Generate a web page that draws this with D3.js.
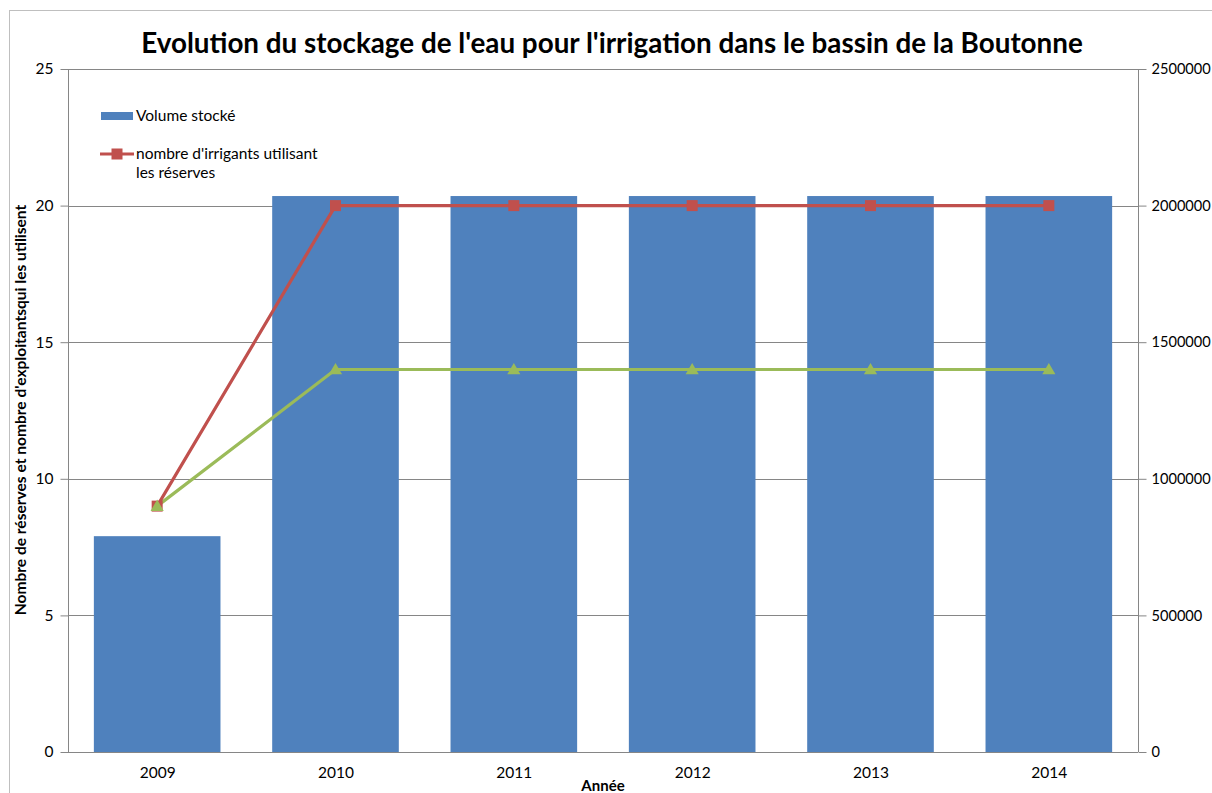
<!DOCTYPE html>
<html><head><meta charset="utf-8">
<script src="https://cdn.jsdelivr.net/npm/d3@7"></script>
<style>body{margin:0;background:#fff}svg{display:block}text{font-family:Lato,"Open Sans",sans-serif}</style>
</head><body>
<svg id="c" width="1212" height="793"></svg>
<script>
const categories = ["2009","2010","2011","2012","2013","2014"];
const volumeStocke = [790000, 2035000, 2035000, 2035000, 2035000, 2035000];
const irrigants = [9, 20, 20, 20, 20, 20];
const reserves = [9, 14, 14, 14, 14, 14];
const leftTicks = [0,5,10,15,20,25];
const rightTicks = [0,500000,1000000,1500000,2000000,2500000];
const title = "Evolution du stockage de l'eau pour l'irrigation dans le bassin de la Boutonne";
const yTitle = "Nombre de réserves et nombre d'exploitantsqui les utilisent";
const xTitle = "Année";
const legendLabels = ["Volume stocké", "nombre d'irrigants utilisant", "les réserves"];

const svg = d3.select("#c");
const L = 68, R = 1138, T = 69, B = 752;
svg.append("rect").attr("x",9.5).attr("y",10.5).attr("width",1210).attr("height",800)
  .attr("fill","none").attr("stroke","#bfbfbf").attr("stroke-width",1);

const x = d3.scaleBand().domain(categories).range([L,R]).paddingInner(0.29).paddingOuter(0.145);
const xc = d3.scalePoint().domain(categories).range([L,R]).padding(0.5);
const yL = d3.scaleLinear().domain([0,25]).range([B,T]);
const yR = d3.scaleLinear().domain([0,2500000]).range([B,T]);

// gridlines
svg.append("g").selectAll("line").data(leftTicks.filter(d=>d>0)).join("line")
  .attr("x1",L).attr("x2",R).attr("y1",d=>Math.round(yL(d))+0.5).attr("y2",d=>Math.round(yL(d))+0.5)
  .attr("stroke","#868686").attr("stroke-width",1);

// bars
svg.append("g").selectAll("rect").data(categories).join("rect")
  .attr("x",d=>x(d)).attr("width",x.bandwidth())
  .attr("y",(d,i)=>yR(volumeStocke[i])).attr("height",(d,i)=>B-yR(volumeStocke[i]))
  .attr("fill","#4f81bd");

// axes
const axL = d3.axisLeft(yL).tickValues(leftTicks).tickSize(8).tickPadding(7);
const gL = svg.append("g").attr("transform",`translate(${L+0.5},0)`).call(axL);
const axR = d3.axisRight(yR).tickValues(rightTicks).tickSize(8).tickPadding(5).tickFormat(d3.format("d"));
const gR = svg.append("g").attr("transform",`translate(${R+0.5},0)`).call(axR);
const axB = d3.axisBottom(xc).tickSize(0).tickPadding(14);
const gB = svg.append("g").attr("transform",`translate(0,${B+0.5})`).call(axB);
[gL,gR,gB].forEach(g=>{
  g.selectAll(".domain").attr("stroke","#868686");
  g.selectAll(".tick line").attr("stroke","#868686");
  g.selectAll("text").attr("font-size",15.5).attr("fill","#000");
});
gR.selectAll("text").attr("font-size",14.6);
gB.select(".domain").attr("d",`M${L},0H${R}`);
gL.select(".domain").attr("d",`M0,${T}V${B}`);
gR.select(".domain").attr("d",`M0,${T}V${B}`);

// lines
const lineL = d3.line().x((d,i)=>xc(categories[i])).y(d=>yL(d));
svg.append("path").datum(reserves).attr("d",lineL).attr("fill","none").attr("stroke","#9bbb59").attr("stroke-width",3.2);
svg.append("path").datum(irrigants).attr("d",lineL).attr("fill","none").attr("stroke","#c0504d").attr("stroke-width",3.2);
svg.append("g").selectAll("rect").data(irrigants).join("rect")
  .attr("x",(d,i)=>xc(categories[i])-5.5).attr("y",d=>yL(d)-5.5).attr("width",11).attr("height",11)
  .attr("fill","#c0504d");
const tri = d3.symbol().type(d3.symbolTriangle).size(75);
svg.append("g").selectAll("path").data(reserves).join("path")
  .attr("transform",(d,i)=>`translate(${xc(categories[i])},${yL(d)+1})`).attr("d",tri)
  .attr("fill","#9bbb59");

// title
const tt = svg.append("text").attr("x",612).attr("y",53).attr("text-anchor","middle")
  .attr("font-weight","bold").attr("font-size",25).text(title);
const tw = tt.node().getComputedTextLength();
tt.attr("font-size",25*942/tw);

// y title
const yt = svg.append("text").attr("transform","translate(26,410) rotate(-90)").attr("text-anchor","middle")
  .attr("font-weight","bold").attr("font-size",13).text(yTitle);
const yw = yt.node().getComputedTextLength();
yt.attr("font-size",13*411/yw);

// x title
svg.append("text").attr("x",603).attr("y",791).attr("text-anchor","middle")
  .attr("font-weight","bold").attr("font-size",15).text(xTitle);

// legend
const lg = svg.append("g");
lg.append("rect").attr("x",101).attr("y",112).attr("width",32).attr("height",8).attr("fill","#4f81bd");
lg.append("text").attr("x",136).attr("y",121).attr("font-size",15.5).text(legendLabels[0]);
lg.append("line").attr("x1",100).attr("x2",134).attr("y1",154).attr("y2",154).attr("stroke","#c0504d").attr("stroke-width",3.2);
lg.append("rect").attr("x",111.5).attr("y",148.5).attr("width",11).attr("height",11).attr("fill","#c0504d");
lg.append("text").attr("x",136).attr("y",159).attr("font-size",15.5).text(legendLabels[1]);
lg.append("text").attr("x",136).attr("y",178).attr("font-size",15.5).text(legendLabels[2]);
</script>
</body></html>
